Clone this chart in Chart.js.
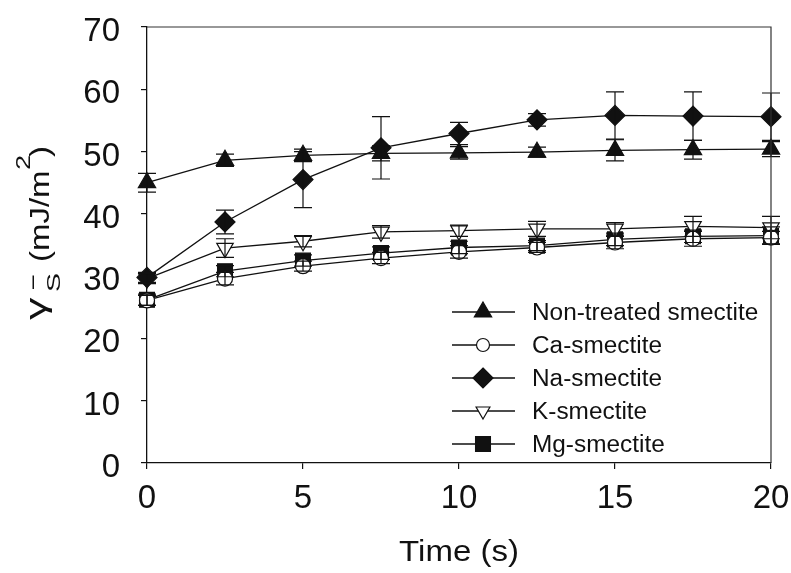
<!DOCTYPE html>
<html>
<head>
<meta charset="utf-8">
<script src="https://cdn.jsdelivr.net/npm/chart.js@4.4.1/dist/chart.umd.min.js"></script>
<style>
  html, body { margin: 0; padding: 0; background: #fff; }
  #wrap { width: 791px; height: 573px; position: relative; }
</style>
</head>
<body>
<div id="wrap"><canvas id="chart"></canvas></div>
<script>
// data
const times = [0, 2.5, 5, 7.5, 10, 12.5, 15, 17.5, 20];
const seriesNames = ['Non-treated smectite', 'Ca-smectite', 'Na-smectite', 'K-smectite', 'Mg-smectite'];

const nonTreated    = [45.0, 48.6, 49.4, 49.7, 49.8, 49.9, 50.2, 50.3, 50.4];
const nonTreatedErr = [1.5, 1.0, 1.0, 1.2, 1.0, 0.8, 1.7, 1.5, 1.2];
const caSmectite    = [26.1, 29.6, 31.6, 32.9, 33.9, 34.6, 35.4, 36.0, 36.2];
const caErr         = [0.8, 1.0, 0.8, 0.9, 1.0, 0.8, 1.0, 1.2, 1.0];
const naSmectite    = [29.8, 38.7, 45.5, 50.6, 52.9, 55.1, 55.8, 55.7, 55.6];
const naErr         = [0.8, 1.9, 4.5, 5.0, 1.8, 1.0, 3.8, 3.9, 3.8];
const kSmectite     = [29.6, 34.5, 35.6, 37.1, 37.3, 37.6, 37.6, 38.0, 37.8];
const kErr          = [0.8, 1.5, 0.9, 1.0, 0.9, 1.2, 1.0, 1.6, 1.8];
const mgSmectite    = [26.2, 30.8, 32.5, 33.7, 34.6, 34.9, 35.9, 36.4, 36.5];
const mgErr         = [0.9, 0.9, 0.9, 1.0, 1.0, 0.8, 1.0, 1.0, 1.4];

const xTicks = [0, 5, 10, 15, 20];
const yTicks = [0, 10, 20, 30, 40, 50, 60, 70];

const FONT = "'Liberation Sans', Arial, sans-serif";

const markers = [
    { style: 'triangle', rot: 0,   radius: 10,   legendR: 10,  fill: '#111' },
    { style: 'circle',   rot: 0,   radius: 7.5,  legendR: 6.5, fill: '#fff' },
    { style: 'rectRot',  rot: 0,   radius: 10,   legendR: 10,  fill: '#111' },
    { style: 'triangle', rot: 180, radius: 9.5,  legendR: 8,   fill: '#fff' },
    { style: 'rect',     rot: 0,   radius: 10.5, legendR: 10.5, fill: '#111' }
];
const values = [nonTreated, caSmectite, naSmectite, kSmectite, mgSmectite];
const errors = [nonTreatedErr, caErr, naErr, kErr, mgErr];

const datasets = seriesNames.map((name, i) => ({
    label: name,
    data: times.map((t, j) => ({ x: t, y: values[i][j] })),
    errs: errors[i],
    borderColor: '#111',
    borderWidth: 1.3,
    backgroundColor: markers[i].fill,
    pointStyle: markers[i].style,
    pointRotation: markers[i].rot,
    pointRadius: markers[i].radius,
    pointBorderColor: '#111',
    pointBorderWidth: 1.2,
    pointBackgroundColor: markers[i].fill,
    showLine: true,
    clip: false,
    tension: 0
}));

// marker painter for the legend
function drawMarker(ctx, m, x, y, r) {
    ctx.save();
    ctx.fillStyle = m.fill;
    ctx.strokeStyle = '#111';
    ctx.lineWidth = 1.2;
    ctx.beginPath();
    if (m.style === 'circle') {
        ctx.arc(x, y, r, 0, Math.PI * 2);
    } else if (m.style === 'triangle') {
        const s = m.rot ? -1 : 1;
        ctx.moveTo(x, y - s * r);
        ctx.lineTo(x + r * 0.866, y + s * r * 0.5);
        ctx.lineTo(x - r * 0.866, y + s * r * 0.5);
        ctx.closePath();
    } else if (m.style === 'rectRot') {
        ctx.moveTo(x, y - r); ctx.lineTo(x + r, y); ctx.lineTo(x, y + r); ctx.lineTo(x - r, y);
        ctx.closePath();
    } else {
        const h = r * 0.7071;
        ctx.rect(x - h, y - h, 2 * h, 2 * h);
    }
    ctx.fill();
    ctx.stroke();
    ctx.restore();
}

// text drawn a bit wider than Arial, like the figure's font
function wideText(ctx, str, x, y, size, sx, align) {
    ctx.save();
    ctx.font = size + 'px ' + FONT;
    ctx.translate(x, y);
    ctx.scale(sx, 1);
    ctx.textAlign = align || 'left';
    ctx.fillText(str, 0, 0);
    ctx.restore();
}

const figurePlugin = {
    id: 'figure',
    afterDatasetsDraw(chart) {
        const ctx = chart.ctx;
        const yScale = chart.scales.y;
        ctx.save();
        ctx.strokeStyle = '#111';
        ctx.lineWidth = 1.2;
        chart.data.datasets.forEach((ds, i) => {
            const meta = chart.getDatasetMeta(i);
            meta.data.forEach((pt, j) => {
                const v = ds.data[j].y, e = ds.errs[j];
                const yt = yScale.getPixelForValue(v + e);
                const yb = yScale.getPixelForValue(v - e);
                ctx.beginPath();
                ctx.moveTo(pt.x, yt); ctx.lineTo(pt.x, yb);
                ctx.moveTo(pt.x - 9, yt); ctx.lineTo(pt.x + 9, yt);
                ctx.moveTo(pt.x - 9, yb); ctx.lineTo(pt.x + 9, yb);
                ctx.stroke();
            });
        });
        ctx.restore();
    },
    afterDraw(chart) {
        const ctx = chart.ctx;
        const a = chart.chartArea;
        const xs = chart.scales.x, ys = chart.scales.y;
        ctx.save();
        // top and right frame
        ctx.strokeStyle = '#333';
        ctx.lineWidth = 1.2;
        ctx.beginPath();
        ctx.moveTo(a.left, a.top); ctx.lineTo(a.right, a.top); ctx.lineTo(a.right, a.bottom);
        ctx.stroke();

        ctx.fillStyle = '#111';
        ctx.textBaseline = 'alphabetic';
        // tick labels
        xTicks.forEach(v => wideText(ctx, String(v), xs.getPixelForValue(v), 508, 33, 1, 'center'));
        yTicks.forEach(v => wideText(ctx, String(v), 120, ys.getPixelForValue(v) + 14, 33, 1, 'right'));

        // legend
        const lx0 = 452, lx1 = 515, mx = 483, tx = 532;
        const rows = [312, 345, 378, 411, 444];
        seriesNames.forEach((name, i) => {
            const y = rows[i];
            ctx.strokeStyle = '#111';
            ctx.lineWidth = 1.3;
            ctx.beginPath(); ctx.moveTo(lx0, y); ctx.lineTo(lx1, y); ctx.stroke();
            drawMarker(ctx, markers[i], mx, y, markers[i].legendR);
            ctx.fillStyle = '#111';
            wideText(ctx, name, tx, y + 8, 23, 1.06, 'left');
        });

        // x title
        wideText(ctx, 'Time (s)', (a.left + a.right) / 2, 561, 30, 1.1, 'center');

        // y title: gamma with superscript minus, subscript S, (mJ/m^2)
        ctx.translate(49, 323);
        ctx.rotate(-Math.PI / 2);
        wideText(ctx, '\u03b3', 3, -3, 29, 1.55);
        wideText(ctx, '\u2013', 34, -10, 22, 1.1);
        wideText(ctx, 'S', 31, 11, 19, 1.5);
        wideText(ctx, '(mJ/m', 61, 0, 27, 1.22);
        wideText(ctx, '2', 153, -19, 21, 1.3);
        wideText(ctx, ')', 166, 0, 27, 1.22);
        ctx.restore();
    }
};

new Chart(document.getElementById('chart'), {
    type: 'scatter',
    data: { datasets },
    options: {
        responsive: true,
        maintainAspectRatio: false,
        animation: false,
        layout: { padding: { top: 27, right: 20, left: 0, bottom: 0 } },
        plugins: { legend: { display: false }, tooltip: { enabled: false } },
        scales: {
            x: {
                type: 'linear', min: 0, max: 20,
                afterFit: s => { s.height = 110; },
                afterBuildTicks: s => { s.ticks = xTicks.map(v => ({ value: v })); },
                grid: { drawOnChartArea: false, drawTicks: true, tickLength: 6, color: '#111', lineWidth: 1.2 },
                border: { display: true, color: '#111', width: 1.3 },
                ticks: { display: false }
            },
            y: {
                type: 'linear', min: 0, max: 70,
                afterFit: s => { s.width = 147; },
                afterBuildTicks: s => { s.ticks = yTicks.map(v => ({ value: v })); },
                grid: { drawOnChartArea: false, drawTicks: true, tickLength: 6, color: '#111', lineWidth: 1.2 },
                border: { display: true, color: '#111', width: 1.3 },
                ticks: { display: false }
            }
        }
    },
    plugins: [figurePlugin]
});
</script>
</body>
</html>
